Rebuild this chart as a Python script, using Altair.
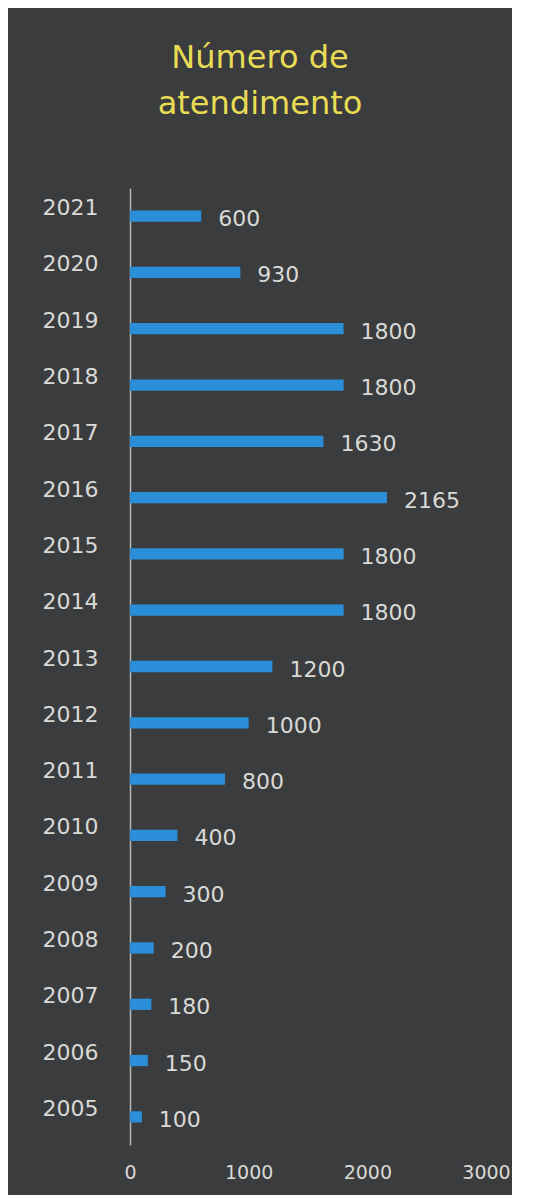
import altair as alt
import pandas as pd

years = ["2021", "2020", "2019", "2018", "2017", "2016", "2015", "2014", "2013",
         "2012", "2011", "2010", "2009", "2008", "2007", "2006", "2005"]
values = [600, 930, 1800, 1800, 1630, 2165, 1800, 1800, 1200,
          1000, 800, 400, 300, 200, 180, 150, 100]
x_ticks = [0, 1000, 2000, 3000]
title_lines = ["Número de", "atendimento"]

df = pd.DataFrame({"ano": years, "valor": values})

FONT = "DejaVu Sans"
LABEL_COLOR = "#d9d9d6"

base = alt.Chart(df).encode(
    y=alt.Y("ano:N", sort=years, title=None,
            scale=alt.Scale(paddingInner=0.8, paddingOuter=0.4),
            axis=alt.Axis(domain=True, domainColor="#b8b8b8", domainWidth=1.5,
                          ticks=False, labelPadding=32, labelOffset=-8,
                          labelFont=FONT, labelFontSize=22, labelColor=LABEL_COLOR,
                          grid=False)),
)

bars = base.mark_bar(color="#2a8fd8").encode(
    x=alt.X("valor:Q", title=None,
            scale=alt.Scale(domain=[0, 3000], nice=False),
            axis=alt.Axis(values=x_ticks, format="d", domain=False, ticks=False,
                          grid=False, labelPadding=18, labelFont=FONT,
                          labelFontSize=19, labelColor=LABEL_COLOR,
                          labelFlush=False)),
)

labels = base.mark_text(align="left", baseline="middle", dx=17, dy=3,
                        font=FONT, fontSize=22, color=LABEL_COLOR).encode(
    x="valor:Q",
    text="valor:Q",
)

chart = (bars + labels).properties(
    width=356,
    height=957,
    title=alt.Title(title_lines, font=FONT, fontSize=32, fontWeight="normal",
                    color="#e8dc55", anchor="middle", dx=-48, offset=67,
                    lineHeight=46),
    background="#3b3c3e",
    padding={"left": 122, "top": 180, "right": 26, "bottom": 50},
    autosize=alt.AutoSizeParams(type="none"),
).configure_view(stroke=None)

chart.save("out.html", embed_options={"renderer": "svg", "actions": False})
